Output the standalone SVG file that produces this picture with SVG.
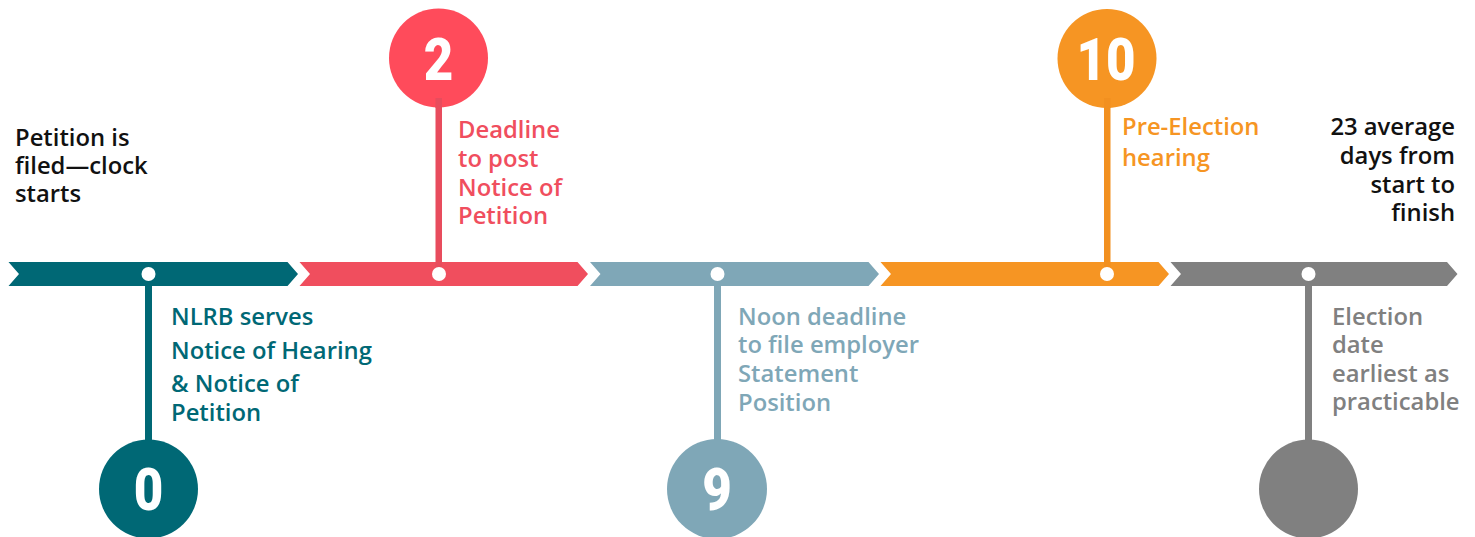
<svg xmlns="http://www.w3.org/2000/svg" width="1475" height="537" viewBox="0 0 1475 537">
<defs>
<style>
.lbl{font-family:"Open Sans","Liberation Sans",sans-serif;font-weight:600;font-size:23.8px}
.num{font-family:Roboto,"Liberation Sans",sans-serif;font-weight:900;font-size:60px;fill:#fff}
.dot{fill:#fff}
</style>
</defs>
<rect width="1475" height="537" fill="#fff"/>
<g id="timeline">
<polygon points="8.5,262 287.5,262 298,274 287.5,286 8.5,286 19,274" fill="#006875"/>
<polygon points="299.5,262 577.5,262 588,274 577.5,286 299.5,286 310,274" fill="#f04e5e"/>
<polygon points="590,262 868.5,262 879,274 868.5,286 590,286 600.5,274" fill="#7fa7b7"/>
<polygon points="880.5,262 1158.5,262 1169,274 1158.5,286 880.5,286 891,274" fill="#f69523"/>
<polygon points="1170.5,262 1447,262 1457.5,274 1447,286 1170.5,286 1181,274" fill="#808080"/>
</g>
<g id="connectors">
<rect x="145" y="274" width="7" height="170" fill="#006875"/>
<rect x="435.5" y="98" width="6.5" height="176" fill="#e84c5d"/>
<rect x="714" y="274" width="7" height="170" fill="#7fa7b7"/>
<rect x="1104" y="98" width="6.5" height="176" fill="#f29020"/>
<rect x="1305" y="274" width="7" height="170" fill="#808080"/>
</g>
<g id="node-start">
<text class="lbl" fill="#111" x="15" y="146">Petition is</text>
<text class="lbl" fill="#111" x="15" y="174">filed—clock</text>
<text class="lbl" fill="#111" x="15" y="202">starts</text>
</g>
<g id="node-0">
<circle class="dot" cx="148.5" cy="274" r="7"/>
<circle cx="148.5" cy="489" r="49.5" fill="#006875"/>
<text class="num" transform="translate(148.5 510) scale(0.85 1)" text-anchor="middle">0</text>
<text class="lbl" fill="#006875" x="171" y="325">NLRB serves</text>
<text class="lbl" fill="#006875" x="171" y="359">Notice of Hearing</text>
<text class="lbl" fill="#006875" x="171" y="392">&amp; Notice of</text>
<text class="lbl" fill="#006875" x="171" y="421">Petition</text>
</g>
<g id="node-2">
<circle class="dot" cx="439" cy="274" r="7"/>
<circle cx="438.5" cy="58" r="49.5" fill="#ff4b5b"/>
<rect x="435.5" y="98" width="6.5" height="10" fill="#e84c5d"/>
<text class="num" transform="translate(438.5 80) scale(0.85 1)" text-anchor="middle">2</text>
<text class="lbl" fill="#f04e5e" x="458" y="138">Deadline</text>
<text class="lbl" fill="#f04e5e" x="458" y="167">to post</text>
<text class="lbl" fill="#f04e5e" x="458" y="196">Notice of</text>
<text class="lbl" fill="#f04e5e" x="458" y="224">Petition</text>
</g>
<g id="node-9">
<circle class="dot" cx="717.5" cy="274" r="7"/>
<circle cx="717" cy="489" r="50" fill="#7fa7b7"/>
<text class="num" transform="translate(717 510) scale(0.85 1)" text-anchor="middle">9</text>
<text class="lbl" fill="#7fa7b7" x="738" y="325">Noon deadline</text>
<text class="lbl" fill="#7fa7b7" x="738" y="353">to file employer</text>
<text class="lbl" fill="#7fa7b7" x="738" y="382">Statement</text>
<text class="lbl" fill="#7fa7b7" x="738" y="411">Position</text>
</g>
<g id="node-10">
<circle class="dot" cx="1107" cy="274" r="7"/>
<circle cx="1107" cy="58.5" r="49.5" fill="#f69523"/>
<rect x="1104" y="98" width="6.5" height="10" fill="#f29020"/>
<text class="num" transform="translate(1106 80) scale(0.85 1)" text-anchor="middle">10</text>
<text class="lbl" fill="#f69523" x="1122" y="135">Pre-Election</text>
<text class="lbl" fill="#f69523" x="1122" y="166">hearing</text>
</g>
<g id="node-end">
<circle class="dot" cx="1308.5" cy="274" r="7"/>
<circle cx="1308.5" cy="489" r="49.5" fill="#808080"/>
<text class="lbl" fill="#808080" x="1332" y="325">Election</text>
<text class="lbl" fill="#808080" x="1332" y="353">date</text>
<text class="lbl" fill="#808080" x="1332" y="382">earliest as</text>
<text class="lbl" fill="#808080" x="1332" y="410">practicable</text>
<text class="lbl" fill="#111" x="1455" y="135" text-anchor="end">23 average</text>
<text class="lbl" fill="#111" x="1455" y="164" text-anchor="end">days from</text>
<text class="lbl" fill="#111" x="1455" y="193" text-anchor="end">start to</text>
<text class="lbl" fill="#111" x="1455" y="221" text-anchor="end">finish</text>
</g>
</svg>
